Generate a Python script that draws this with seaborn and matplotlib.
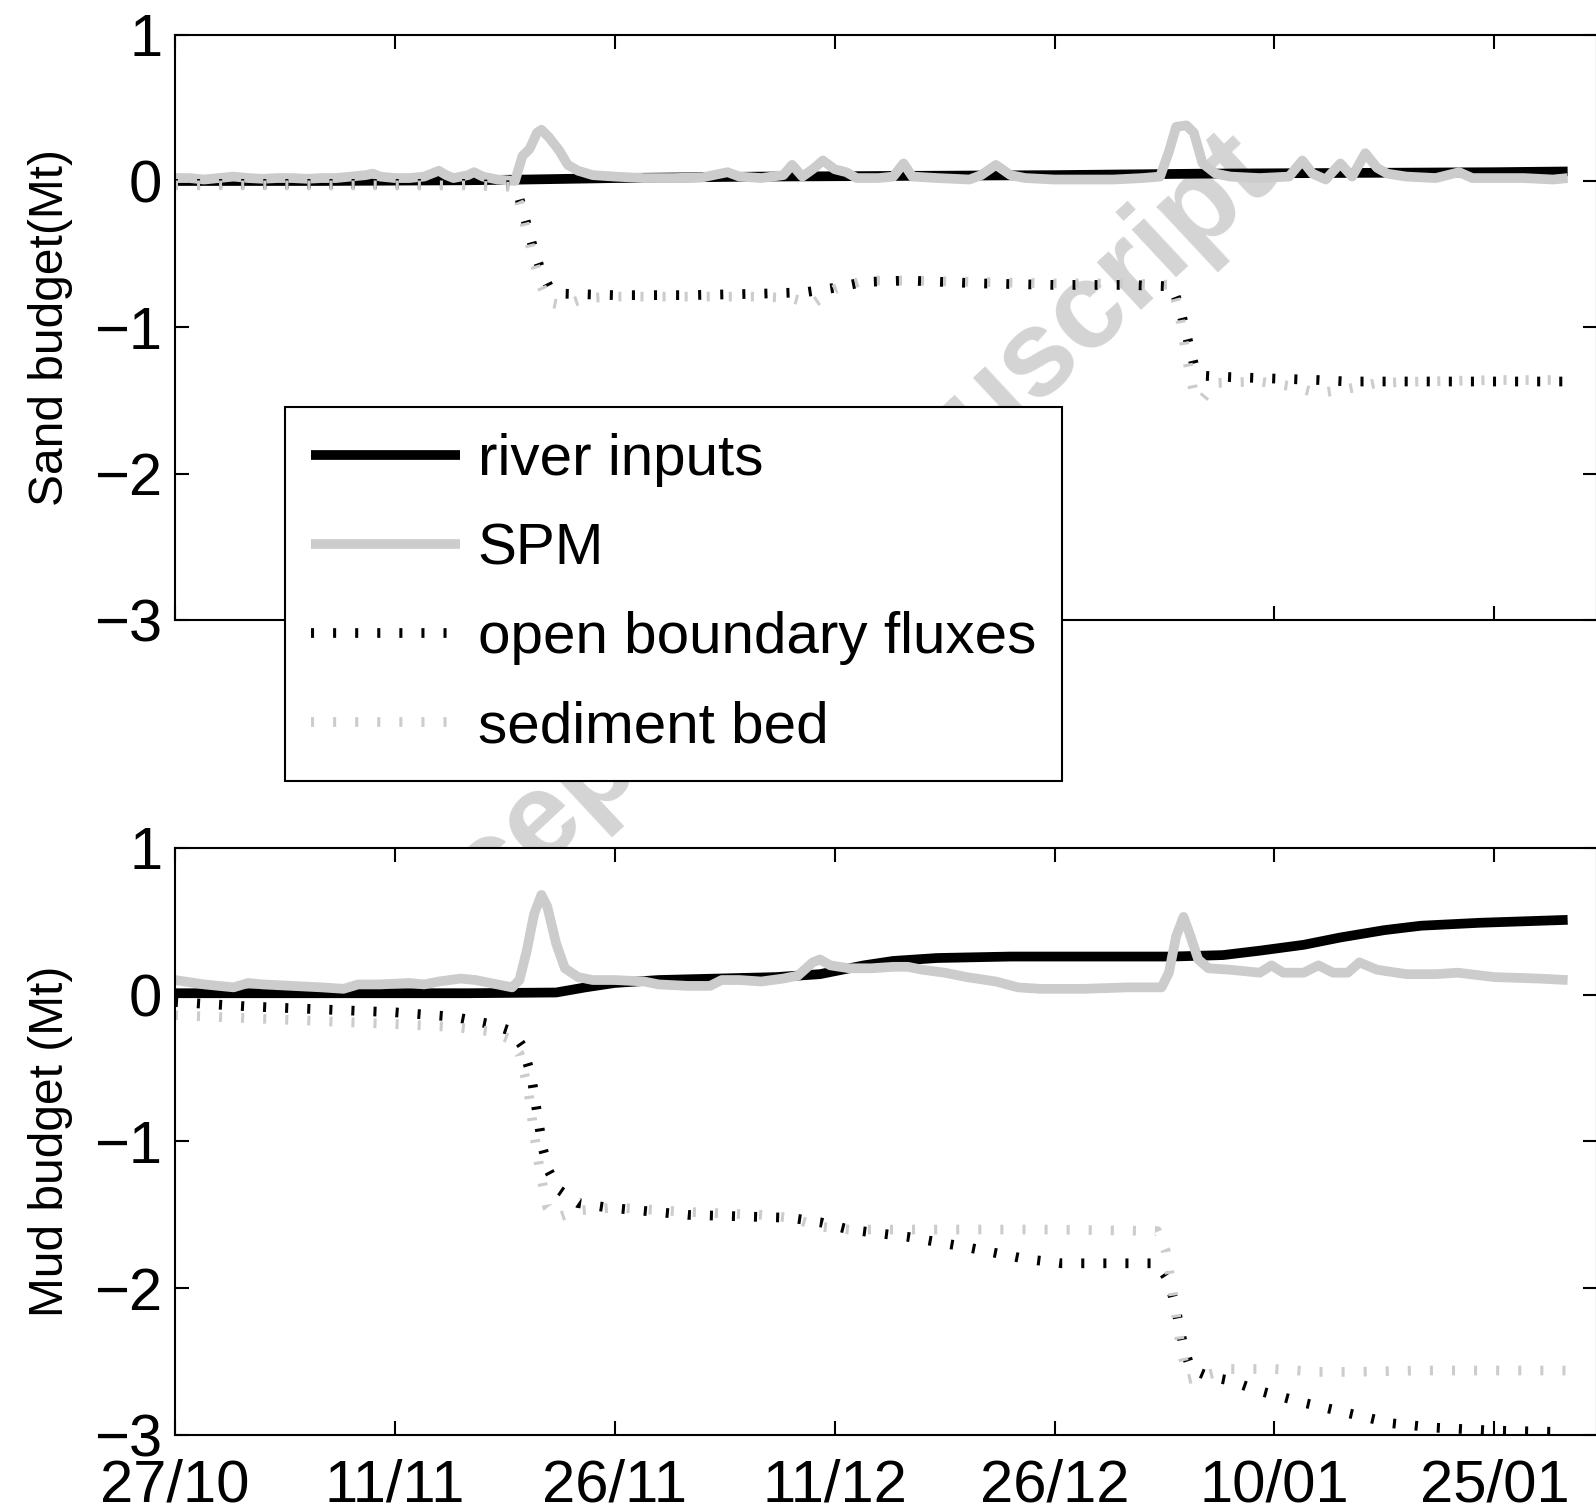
import numpy as np
import pandas as pd
import matplotlib
matplotlib.use("Agg")
import matplotlib.pyplot as plt
import seaborn as sns

sns.set_theme(style="ticks")
plt.rcParams['font.family'] = ['Liberation Sans', 'DejaVu Sans']
plt.rcParams['lines.scale_dashes'] = False
plt.rcParams['axes.unicode_minus'] = True

# ---------------- data (days since 27/10) ----------------
tick_days = [0, 15, 30, 45, 60, 75, 90]
tick_labels = ["27/10", "11/11", "26/11", "11/12", "26/12", "10/01", "25/01"]
series_labels = ["river inputs", "SPM", "open boundary fluxes", "sediment bed"]

# Sand budget
sand_river_day = [0, 10, 20, 24, 30, 40, 50, 60, 70, 80, 90, 95]
sand_river = [0.0, 0.0, 0.005, 0.01, 0.02, 0.03, 0.035, 0.04, 0.05, 0.055, 0.06, 0.065]

sand_spm_day = [0, 1, 2, 3, 4, 5, 6, 7, 8, 9, 10, 11, 12, 13, 13.5, 14, 15, 16, 17, 18,
                18.5, 19, 20, 20.4, 21, 22, 23.2, 23.7, 24.2, 24.7, 25.0, 25.5, 26.2, 26.8,
                27.5, 28.5, 30, 32, 34, 36, 37.7, 38.5, 40, 41.5, 42.1, 42.8, 43.5, 44.2,
                45, 45.8, 46.5, 48, 49, 49.7, 50.3, 52, 54.2, 55, 56, 57, 58, 60, 62, 64,
                66, 67.2, 67.8, 68.3, 69.0, 69.5, 70.1, 71, 72, 74, 76, 76.9, 77.6, 78.5,
                79.5, 80.3, 81.2, 82.0, 82.7, 84, 86, 87.6, 88.5, 90, 92, 94, 95]
sand_spm = [0.02, 0.02, 0.01, 0.02, 0.03, 0.02, 0.015, 0.02, 0.02, 0.015, 0.02, 0.02, 0.03,
            0.04, 0.05, 0.03, 0.02, 0.02, 0.03, 0.07, 0.04, 0.02, 0.04, 0.06, 0.03, 0.01,
            0.0, 0.17, 0.22, 0.33, 0.35, 0.30, 0.21, 0.11, 0.07, 0.04, 0.03, 0.02, 0.02,
            0.025, 0.06, 0.03, 0.02, 0.04, 0.11, 0.03, 0.08, 0.14, 0.08, 0.06, 0.02, 0.02,
            0.03, 0.12, 0.03, 0.02, 0.01, 0.04, 0.11, 0.04, 0.02, 0.01, 0.01, 0.01, 0.02,
            0.03, 0.20, 0.37, 0.38, 0.33, 0.12, 0.05, 0.03, 0.02, 0.03, 0.14, 0.05, 0.01,
            0.12, 0.03, 0.19, 0.09, 0.05, 0.03, 0.02, 0.06, 0.02, 0.02, 0.02, 0.01, 0.02]

sand_obf_day = [0, 10, 20, 23, 23.5, 24, 24.5, 25, 25.5, 26.5, 30, 35, 40, 43, 45, 47, 50,
                55, 60, 65, 68, 68.5, 69, 69.5, 70, 72, 75, 78, 80, 85, 90, 95]
sand_obf = [-0.02, -0.02, -0.02, -0.03, -0.12, -0.3, -0.48, -0.62, -0.72, -0.77, -0.78,
            -0.78, -0.77, -0.76, -0.73, -0.69, -0.68, -0.7, -0.71, -0.71, -0.72, -0.85,
            -1.05, -1.25, -1.33, -1.34, -1.35, -1.36, -1.37, -1.37, -1.37, -1.37]

sand_bed_day = [0, 10, 20, 23, 23.5, 24, 24.5, 25, 25.5, 26.5, 28, 30, 35, 40, 42, 43.5, 45,
                47, 50, 55, 60, 65, 68, 68.5, 69, 69.5, 70, 71, 74, 76, 78, 80, 82, 85, 90, 95]
sand_bed = [-0.03, -0.03, -0.03, -0.04, -0.15, -0.35, -0.55, -0.72, -0.83, -0.85, -0.8,
            -0.79, -0.79, -0.79, -0.8, -0.84, -0.74, -0.68, -0.68, -0.69, -0.7, -0.7,
            -0.71, -0.9, -1.2, -1.45, -1.5, -1.38, -1.37, -1.4, -1.45, -1.42, -1.38,
            -1.37, -1.36, -1.36]

# Mud budget
mud_river_day = [0, 10, 20, 26, 28, 30, 33, 37, 41, 44, 47, 49, 52, 57, 68, 71.5, 74, 77,
                 79.5, 82.5, 85, 89, 95]
mud_river = [0.01, 0.01, 0.01, 0.015, 0.05, 0.08, 0.1, 0.11, 0.12, 0.14, 0.2, 0.23, 0.25,
             0.26, 0.26, 0.27, 0.3, 0.34, 0.39, 0.44, 0.47, 0.49, 0.51]

mud_spm_day = [0, 2, 4, 5, 6, 8, 10, 11.5, 12.5, 14, 16, 17, 18, 19.5, 20.5, 21.5, 23, 23.5,
               24.0, 24.5, 25.0, 25.4, 26, 26.6, 27.5, 28.5, 30, 32, 33, 35, 36.5, 37.3,
               38.5, 40, 41.5, 42.5, 43.5, 44, 44.7, 46, 47.5, 49, 50, 51, 52.5, 54, 56,
               57.5, 59, 62, 65, 67.3, 67.8, 68.3, 68.8, 69.2, 69.8, 70.5, 72, 74, 74.8,
               75.6, 77, 78, 79, 80, 80.8, 82, 84, 86, 87.5, 90, 93, 95]
mud_spm = [0.1, 0.07, 0.05, 0.08, 0.07, 0.06, 0.05, 0.04, 0.07, 0.07, 0.08, 0.07, 0.09,
           0.11, 0.1, 0.08, 0.05, 0.1, 0.3, 0.55, 0.68, 0.6, 0.35, 0.18, 0.12, 0.1, 0.1,
           0.09, 0.07, 0.06, 0.06, 0.1, 0.1, 0.09, 0.11, 0.13, 0.22, 0.24, 0.2, 0.18, 0.18,
           0.19, 0.19, 0.17, 0.15, 0.12, 0.09, 0.05, 0.04, 0.04, 0.05, 0.05, 0.15, 0.4,
           0.53, 0.42, 0.24, 0.18, 0.17, 0.15, 0.2, 0.15, 0.15, 0.2, 0.15, 0.15, 0.22,
           0.17, 0.14, 0.14, 0.15, 0.12, 0.11, 0.1]

mud_obf_day = [0, 5, 10, 15, 19, 21.5, 23, 23.7, 24.3, 24.7, 25.1, 25.5, 26.2, 27.5, 29.5,
               35, 42, 44, 46, 50, 54, 58, 60.5, 67, 67.8, 68.3, 68.8, 69.3, 70.5, 72, 74,
               77, 80, 83, 86, 90, 95]
mud_obf = [-0.05, -0.08, -0.1, -0.12, -0.15, -0.2, -0.25, -0.35, -0.55, -0.8, -1.05, -1.2,
           -1.33, -1.42, -1.45, -1.5, -1.52, -1.55, -1.6, -1.65, -1.72, -1.8, -1.83, -1.83,
           -1.95, -2.15, -2.4, -2.55, -2.6, -2.63, -2.7, -2.78, -2.85, -2.92, -2.95, -2.97,
           -2.98]

mud_bed_day = [0, 5, 10, 15, 19, 21.5, 22.8, 23.5, 24.1, 24.5, 24.9, 25.4, 26, 27.5, 30, 35,
               40, 42, 44, 46, 50, 55, 60, 67, 67.6, 68.1, 68.6, 69.1, 70, 72, 75, 78, 80,
               85, 90, 95]
mud_bed = [-0.14, -0.16, -0.18, -0.2, -0.22, -0.25, -0.3, -0.4, -0.65, -0.95, -1.2, -1.45,
           -1.52, -1.47, -1.45, -1.48, -1.5, -1.52, -1.58, -1.6, -1.6, -1.6, -1.6, -1.61,
           -1.75, -2.05, -2.4, -2.62, -2.6, -2.55, -2.55, -2.57, -2.57, -2.56, -2.56, -2.56]

# ---------------- figure ----------------
fig = plt.figure(figsize=(15.96, 15.12), dpi=100)
fig.patch.set_facecolor("white")

fig.text(0.505, 0.617, "Accepted Manuscript", rotation=43, fontsize=88,
         fontweight="bold", color="#d4d4d4", ha="center", va="center", zorder=-1)

ax1 = fig.add_axes([0.1096, 0.5899, 0.8910, 0.3872])
ax2 = fig.add_axes([0.1096, 0.0509, 0.8910, 0.3883])
ax1.set_facecolor("none")
ax2.set_facecolor("white")

BLACK = "#000000"
GREY = "#cccccc"
LW = 7.0
DOT = (0, (2.2, 13.7))


def draw(ax, day_lists, val_lists, with_labels):
    styles = [(BLACK, "-"), (GREY, "-"), (BLACK, DOT), (GREY, DOT)]
    for (d, v), (c, ls), lab in zip(zip(day_lists, val_lists), styles, series_labels):
        sns.lineplot(x=d, y=v, ax=ax, color=c, linewidth=LW,
                     label=lab if with_labels else None, legend=False)
        ln = ax.lines[-1]
        ln.set_linestyle(ls)
        ln.set_solid_capstyle("butt")
        ln.set_dash_capstyle("butt")
        ln.set_solid_joinstyle("round")


draw(ax1, [sand_river_day, sand_spm_day, sand_obf_day, sand_bed_day],
     [sand_river, sand_spm, sand_obf, sand_bed], True)
draw(ax2, [mud_river_day, mud_spm_day, mud_obf_day, mud_bed_day],
     [mud_river, mud_spm, mud_obf, mud_bed], False)

for ax in (ax1, ax2):
    ax.set_xlim(0, 97)
    ax.set_ylim(-3, 1)
    ax.set_yticks([-3, -2, -1, 0, 1])
    ax.set_xticks(tick_days)
    ax.tick_params(direction="in", length=10, width=1.5, top=True, right=True,
                   labelsize=43, colors="black")
    ax.tick_params(axis="y", pad=9)
    ax.tick_params(axis="x", pad=17)
    for s in ax.spines.values():
        s.set_visible(True)
        s.set_linewidth(1.5)
        s.set_color("black")
    ax.set_xlabel("")

ax1.set_xticklabels([])
ax2.set_xticklabels(tick_labels)

ax1.set_ylabel("Sand budget(Mt)", fontsize=34.5, color="black")
ax2.set_ylabel("Mud budget (Mt)", fontsize=34.5, color="black")
ax1.yaxis.set_label_coords(-0.072, 0.5)
ax2.yaxis.set_label_coords(-0.072, 0.5)

handles, labels = ax1.get_legend_handles_labels()
leg = ax1.legend(handles, labels, loc="upper left",
                 bbox_to_anchor=(285 / 1596, 1 - 407 / 1512),
                 bbox_transform=fig.transFigure, fontsize=42, frameon=True,
                 fancybox=False, shadow=False, framealpha=1, edgecolor="black",
                 handlelength=2.55, handletextpad=0.3, labelspacing=0.6,
                 borderpad=0.45, borderaxespad=0)
leg.get_frame().set_linewidth(1.5)
for t in leg.get_texts():
    t.set_color("black")

fig.savefig("out.png", dpi=100, facecolor="white")
